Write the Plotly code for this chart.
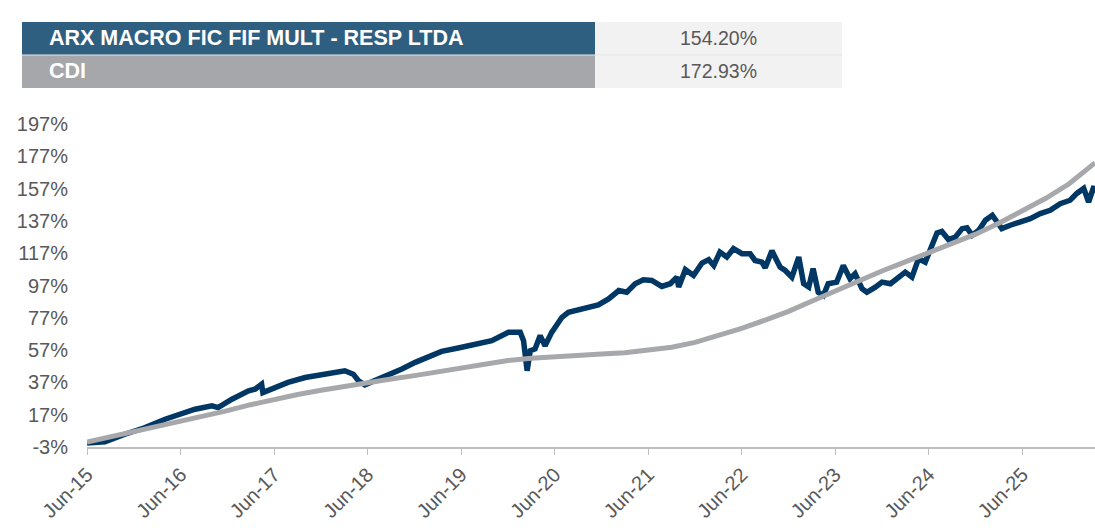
import plotly.graph_objects as go

# ---------------- data ----------------
table_labels = ["ARX MACRO FIC FIF MULT - RESP LTDA", "CDI"]
table_values = ["154.20%", "172.93%"]

fund_dates = [
    "2015-06-01", "2015-08-10", "2015-10-27", "2016-01-14", "2016-04-01", "2016-06-18", "2016-07-27",
    "2016-10-01", "2016-10-25", "2016-12-18", "2017-02-21", "2017-03-18", "2017-04-13", "2017-04-18",
    "2017-06-05", "2017-07-25", "2017-09-30", "2017-12-05", "2018-01-26", "2018-03-04", "2018-04-06",
    "2018-04-26", "2018-05-21", "2018-06-30", "2018-08-21", "2018-10-13", "2018-12-04", "2019-01-12",
    "2019-03-17", "2019-05-21", "2019-07-25", "2019-09-29", "2019-12-03", "2020-01-18", "2020-01-31",
    "2020-02-14", "2020-02-26", "2020-03-16", "2020-04-05", "2020-04-24", "2020-05-20", "2020-06-29",
    "2020-07-24", "2020-09-02", "2020-10-11", "2020-11-18", "2020-12-28", "2021-02-06", "2021-03-09",
    "2021-04-11", "2021-05-13", "2021-06-15", "2021-07-24", "2021-08-26", "2021-09-21", "2021-09-28",
    "2021-10-24", "2021-11-25", "2021-12-28", "2022-01-23", "2022-02-12", "2022-03-08", "2022-04-04",
    "2022-04-30", "2022-06-02", "2022-07-04", "2022-07-23", "2022-08-19", "2022-09-01", "2022-09-27",
    "2022-10-29", "2022-11-18", "2022-12-14", "2023-01-10", "2023-01-29", "2023-02-18", "2023-03-07",
    "2023-03-27", "2023-04-16", "2023-05-05", "2023-06-07", "2023-07-03", "2023-07-29", "2023-08-18",
    "2023-09-14", "2023-10-03", "2023-11-05", "2023-12-01", "2024-01-03", "2024-02-04", "2024-03-01",
    "2024-03-27", "2024-04-22", "2024-05-18", "2024-06-13", "2024-07-03", "2024-07-22", "2024-08-17",
    "2024-09-13", "2024-10-09", "2024-10-28", "2024-11-17", "2024-12-13", "2025-01-08", "2025-02-04",
    "2025-02-23", "2025-03-13", "2025-04-15", "2025-05-23", "2025-07-02", "2025-08-10", "2025-09-18",
    "2025-10-27", "2025-12-05", "2025-12-31", "2026-01-27", "2026-02-15", "2026-03-08", "2026-03-12",
]
fund_values = [
    -0.5, 0.3, 4.9, 9.0, 14.2, 18.3, 20.4,
    22.5, 21.4, 26.6, 31.8, 32.8, 35.9, 30.7,
    33.8, 37.0, 40.0, 42.1, 43.1, 44.2, 42.1,
    38.0, 35.5, 38.0, 42.1, 45.3, 49.4, 52.0,
    56.2, 58.3, 60.4, 62.8, 68.0, 68.0, 62.8,
    44.2, 56.6, 57.7, 66.0, 59.7, 68.0, 77.3,
    80.4, 81.9, 83.5, 85.0, 88.7, 93.9, 92.8,
    98.1, 100.5, 100.1, 96.4, 98.1, 102.2, 96.0,
    106.8, 103.2, 110.9, 113.0, 109.4, 117.7, 114.6,
    119.8, 116.7, 116.7, 112.5, 111.5, 108.0, 118.5,
    108.4, 106.3, 102.2, 114.6, 98.1, 96.0, 107.4,
    92.8, 90.8, 98.1, 99.1, 109.4, 101.2, 104.3,
    95.0, 92.8, 96.0, 99.1, 98.1, 102.2, 105.3,
    102.2, 113.6, 111.5, 122.9, 129.5, 130.5, 125.4,
    127.0, 132.2, 132.8, 128.1, 131.2, 137.4, 140.5,
    136.3, 132.2, 134.3, 136.3, 138.4, 141.5, 143.6,
    147.7, 149.8, 154.0, 157.1, 148.7, 158.5, 154.2,
]

cdi_dates = [
    "2015-06-01", "2015-09-01", "2015-12-01", "2016-03-01", "2016-06-01", "2016-09-01", "2016-12-01",
    "2017-03-01", "2017-06-01", "2017-09-01", "2017-12-01", "2018-03-01", "2018-06-01", "2018-09-01",
    "2018-12-01", "2019-03-01", "2019-06-01", "2019-09-01", "2019-12-01", "2020-03-01", "2020-06-01",
    "2020-09-01", "2020-12-01", "2021-03-01", "2021-06-01", "2021-09-01", "2021-12-01", "2022-03-01",
    "2022-06-01", "2022-09-01", "2022-12-01", "2023-03-01", "2023-06-01", "2023-09-01", "2023-12-01",
    "2024-03-01", "2024-06-01", "2024-09-01", "2024-12-01", "2025-03-01", "2025-06-01", "2025-09-01",
    "2025-12-01", "2026-03-12",
]
cdi_values = [
    0.0, 3.2, 6.3, 9.4, 12.6, 16.0, 19.5,
    23.2, 26.6, 29.5, 32.1, 34.6, 37.0, 39.1,
    41.2, 43.6, 46.2, 48.6, 50.6, 52.0, 53.1,
    53.8, 54.6, 55.4, 56.8, 58.8, 61.8, 65.8,
    70.5, 75.6, 81.0, 87.3, 93.6, 100.0, 106.0,
    111.6, 117.2, 122.8, 128.8, 135.5, 143.3, 151.0,
    160.0, 172.93,
]

x_tick_dates = ["2015-06-01", "2016-06-01", "2017-06-01", "2018-06-01", "2019-06-01", "2020-06-01",
                "2021-06-01", "2022-06-01", "2023-06-01", "2024-06-01", "2025-06-01"]
x_tick_labels = ["Jun-15", "Jun-16", "Jun-17", "Jun-18", "Jun-19", "Jun-20",
                 "Jun-21", "Jun-22", "Jun-23", "Jun-24", "Jun-25"]
y_tick_vals = [-3, 17, 37, 57, 77, 97, 117, 137, 157, 177, 197]
y_tick_labels = [f"{v}%" for v in y_tick_vals]

assert len(fund_dates) == len(fund_values)
assert len(cdi_dates) == len(cdi_values)

# ---------------- figure ----------------
W, H = 1095, 528
FONT = "Arial, 'Liberation Sans', sans-serif"
TXT = "#595959"

def px(x):
    return x / W

def py(y):
    return 1 - y / H

fig = go.Figure()
fig.add_trace(go.Scatter(x=fund_dates, y=fund_values, mode="lines",
                         line=dict(color="#003764", width=5.5), name=table_labels[0],
                         hoverinfo="skip"))
fig.add_trace(go.Scatter(x=cdi_dates, y=cdi_values, mode="lines",
                         line=dict(color="#A7A8AB", width=5), name=table_labels[1],
                         hoverinfo="skip"))

shapes = []
annotations = []
row_colors = ["#2E5E80", "#A6A7AA"]
row_tops = [22, 55]
row_h = 33
for i, (lab, val) in enumerate(zip(table_labels, table_values)):
    t = row_tops[i]
    b = t + row_h
    shapes.append(dict(type="rect", xref="paper", yref="paper", x0=px(22), x1=px(595),
                       y0=py(b), y1=py(t), fillcolor=row_colors[i], line=dict(width=0), layer="above"))
    shapes.append(dict(type="rect", xref="paper", yref="paper", x0=px(595), x1=px(842),
                       y0=py(b), y1=py(t), fillcolor="#F2F2F2", line=dict(width=0), layer="above"))
    annotations.append(dict(xref="paper", yref="paper", x=px(47), y=py((t + b) / 2),
                            xanchor="left", yanchor="middle", showarrow=False, text=f"<b>{lab}</b>",
                            font=dict(family=FONT, size=21.5, color="white")))
    annotations.append(dict(xref="paper", yref="paper", x=px(718), y=py((t + b) / 2),
                            xanchor="center", yanchor="middle", showarrow=False, text=val,
                            font=dict(family=FONT, size=19.5, color=TXT)))
# thin separator between rows
shapes.append(dict(type="line", xref="paper", yref="paper", x0=px(22), x1=px(842),
                   y0=py(55), y1=py(55), line=dict(color="#E6E6E6", width=1), layer="above"))

fig.update_layout(
    width=W, height=H, autosize=False,
    margin=dict(l=0, r=0, t=0, b=0),
    paper_bgcolor="white", plot_bgcolor="white",
    showlegend=False, hovermode=False,
    shapes=shapes, annotations=annotations,
    font=dict(family=FONT, color=TXT),
)
fig.update_xaxes(
    type="date", range=["2015-06-01", "2026-03-12"], domain=[px(87), 1.0],
    tickmode="array", tickvals=x_tick_dates, ticktext=x_tick_labels, tickangle=-45,
    tickfont=dict(family=FONT, size=20, color=TXT),
    showline=True, linecolor="#BFBFBF", linewidth=2,
    ticks="outside", ticklen=6, tickcolor="#BFBFBF", tickwidth=1,
    showgrid=False, zeroline=False, automargin=False,
)
fig.update_yaxes(
    range=[-3, 197], domain=[py(447), py(124)],
    tickmode="array", tickvals=y_tick_vals, ticktext=y_tick_labels,
    tickfont=dict(family=FONT, size=20, color=TXT),
    showline=False, ticks="", showgrid=False, zeroline=False, automargin=False,
    ticklabelstandoff=18,
)

fig.write_html(
    "out.html",
    config={"displayModeBar": False},
    post_script="document.body.style.margin='0';document.body.style.overflow='hidden';",
)
